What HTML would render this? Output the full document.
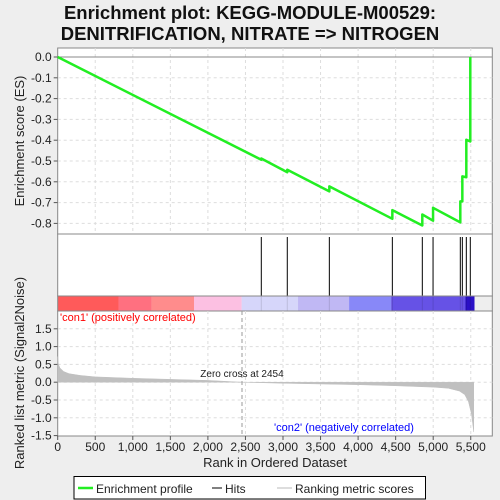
<!DOCTYPE html>
<html><head><meta charset="utf-8"><style>
body{margin:0;background:#eeeeee;}
svg{display:block;font-family:"Liberation Sans","DejaVu Sans",sans-serif;}
</style></head><body>
<svg id="chart" width="500" height="500" xmlns="http://www.w3.org/2000/svg">
<rect x="0" y="0" width="500" height="500" fill="#eeeeee"/>
<text x="250" y="19" text-anchor="middle" font-size="18.5" font-weight="bold" fill="#111">Enrichment plot: KEGG-MODULE-M00529:</text>
<text x="250" y="40" text-anchor="middle" font-size="18.5" font-weight="bold" fill="#111">DENITRIFICATION, NITRATE =&gt; NITROGEN</text>
<g id="gtop"></g>
<g id="ghits"></g>
<g id="gbar"></g>
<g id="gbottom"></g>
<g id="glegend"></g>
</svg>
<script>
const hitRanks=[2711,3057,3617,4456,4855,4998,5361,5388,5441,5494];
const esBefore=[-0.494,-0.554,-0.646,-0.778,-0.810,-0.787,-0.795,-0.694,-0.578,-0.406];
const esAfter=[-0.488,-0.542,-0.622,-0.736,-0.757,-0.725,-0.694,-0.574,-0.398,0.0];
const esTicks=[0.0,-0.1,-0.2,-0.3,-0.4,-0.5,-0.6,-0.7,-0.8];
const metricRanks=[0,10,30,80,150,300,500,1000,1500,2000,2454,3000,3500,4000,4500,5000,5200,5350,5420,5470,5510,5540];
const metricVals=[0.72,0.5,0.4,0.3,0.24,0.19,0.15,0.11,0.08,0.05,0.0,-0.03,-0.05,-0.07,-0.1,-0.14,-0.17,-0.25,-0.35,-0.55,-0.9,-1.4];
const metricTicks=[1.5,1.0,0.5,0.0,-0.5,-1.0,-1.5];
const xTicks=[0,500,1000,1500,2000,2500,3000,3500,4000,4500,5000,5500];
const barStops=[0,810,1250,1815,2450,3200,3880,4440,5430,5550];
const barColors=['#ff5a5a','#ff7080','#ff8c8c','#fcc0e2','#d6d6fa','#c0b8f4','#8888f8','#6652e6','#2a10c6'];
const NS='http://www.w3.org/2000/svg';
const L=57.7,R=492.3;
const X=r=>L+r*(37.55/500);
const Yes=v=>57-v*208;
const Ym=v=>382.2-v*35.6;
function el(tag,attrs,parent){const e=document.createElementNS(NS,tag);for(const k in attrs)e.setAttribute(k,attrs[k]);parent.appendChild(e);return e;}
const gTop=document.getElementById('gtop'),gHits=document.getElementById('ghits'),gBar=document.getElementById('gbar'),gBottom=document.getElementById('gbottom'),gLeg=document.getElementById('glegend');
let r=el('rect',{x:L,y:48,width:R-L,height:186,fill:'#fff',stroke:'#888'},gTop);


xTicks.forEach(t=>{if(t>0){let g=el('line',{x1:X(t),x2:X(t),y1:48,y2:234,stroke:'#ddd','stroke-dasharray':'3,3'},gTop);}});
esTicks.forEach(t=>{let y=Yes(t);
 if(t!==0){let g=el('line',{x1:L,x2:R,y1:y,y2:y,stroke:'#ddd','stroke-dasharray':'3,3'},gTop);}
 let tk=el('line',{x1:L-4,x2:L,y1:y,y2:y,stroke:'#555'},gTop);
 let tx=el('text',{x:L-6,y:y+4,'text-anchor':'end','font-size':'12',fill:'#222'},gTop);tx.textContent=t.toFixed(1);});
let zl=el('line',{x1:L,x2:R,y1:Yes(0),y2:Yes(0),stroke:'#888'},gTop);
let pts=[[X(0),Yes(0)]];
hitRanks.forEach((h,i)=>{pts.push([X(h),Yes(esBefore[i])]);pts.push([X(h),Yes(esAfter[i])]);});
let pl=el('polyline',{points:pts.map(p=>p.join(',')).join(' '),fill:'none',stroke:'#22ee22','stroke-width':'2.5','stroke-linejoin':'round'},gTop);


let yt=el('text',{x:0,y:0,'text-anchor':'middle','font-size':'13',fill:'#222',transform:'translate(24,141) rotate(-90)'},gTop);yt.textContent='Enrichment score (ES)';


let hr=el('rect',{x:L,y:234,width:R-L,height:62,fill:'#fff',stroke:'#888'},gHits);


hitRanks.forEach(h=>{let l=el('line',{x1:X(h),x2:X(h),y1:237,y2:296,stroke:'#000','stroke-width':'1'},gHits);});
barColors.forEach((c,i)=>{let b=el('rect',{x:X(barStops[i]),y:296,width:X(barStops[i+1])-X(barStops[i]),height:15,fill:c},gBar);});
hitRanks.forEach(h=>{let l=el('line',{x1:X(h),x2:X(h),y1:296,y2:311,stroke:'rgba(0,0,0,0.12)'},gBar);});
let bb=el('rect',{x:L,y:296,width:R-L,height:15,fill:'none',stroke:'#888'},gBar);
let br=el('rect',{x:L,y:311,width:R-L,height:125,fill:'#fff',stroke:'#888'},gBottom);


xTicks.forEach(t=>{if(t>0){let g=el('line',{x1:X(t),x2:X(t),y1:311,y2:436,stroke:'#ddd','stroke-dasharray':'3,3'},gBottom);}
 let tk=el('line',{x1:X(t),x2:X(t),y1:436,y2:440,stroke:'#555'},gBottom);
 let tx=el('text',{x:X(t),y:451,'text-anchor':'middle','font-size':'12',fill:'#222'},gBottom);tx.textContent=t.toLocaleString('en-US');});
metricTicks.forEach(t=>{let y=Ym(t);
 if(t!==-1.5){let g=el('line',{x1:L,x2:R,y1:y,y2:y,stroke:'#ddd','stroke-dasharray':'3,3'},gBottom);}
 let tk=el('line',{x1:L-4,x2:L,y1:y,y2:y,stroke:'#555'},gBottom);
 let tx=el('text',{x:L-6,y:y+4,'text-anchor':'end','font-size':'12',fill:'#222'},gBottom);tx.textContent=t.toFixed(1);});
let ap='M'+X(0)+','+Ym(0)+' '+metricRanks.map((m,i)=>'L'+X(m)+','+Ym(metricVals[i])).join(' ')+' L'+X(metricRanks[metricRanks.length-1])+','+Ym(0)+' Z';
let area=el('path',{d:ap,fill:'#c0c0c0',stroke:'#c0c0c0','stroke-width':'0.5'},gBottom);


let zc=el('line',{x1:X(2454),x2:X(2454),y1:311,y2:436,stroke:'#999','stroke-dasharray':'4,3'},gBottom);


let zt=el('text',{x:X(2454),y:377,'text-anchor':'middle','font-size':'10',fill:'#222'},gBottom);zt.textContent='Zero cross at 2454';


let c1=el('text',{x:60,y:321,'font-size':'11',fill:'#ff0000'},gBottom);c1.textContent="'con1' (positively correlated)";


let c2=el('text',{x:344,y:431,'text-anchor':'middle','font-size':'11',fill:'#0000ff'},gBottom);c2.textContent="'con2' (negatively correlated)";


let xt=el('text',{x:275,y:467,'text-anchor':'middle','font-size':'13',fill:'#222'},gBottom);xt.textContent='Rank in Ordered Dataset';


let yt2=el('text',{x:0,y:0,'text-anchor':'middle','font-size':'13',fill:'#222',transform:'translate(24,373) rotate(-90)'},gBottom);yt2.textContent='Ranked list metric (Signal2Noise)';


let lb=el('rect',{x:74,y:476.5,width:351.5,height:22.5,fill:'#fff',stroke:'#000'},gLeg);


let l1=el('line',{x1:78,x2:93,y1:488,y2:488,stroke:'#22ee22','stroke-width':'2.5'},gLeg);
let t1=el('text',{x:96,y:493,'font-size':'12',fill:'#222'},gLeg);t1.textContent='Enrichment profile';
let l2=el('line',{x1:212,x2:222,y1:488,y2:488,stroke:'#000'},gLeg);
let t2=el('text',{x:225,y:493,'font-size':'12',fill:'#222'},gLeg);t2.textContent='Hits';
let l3=el('line',{x1:277,x2:292,y1:488,y2:488,stroke:'#bbb'},gLeg);
let t3=el('text',{x:295,y:493,'font-size':'12',fill:'#222'},gLeg);t3.textContent='Ranking metric scores';
</script>
</body></html>
